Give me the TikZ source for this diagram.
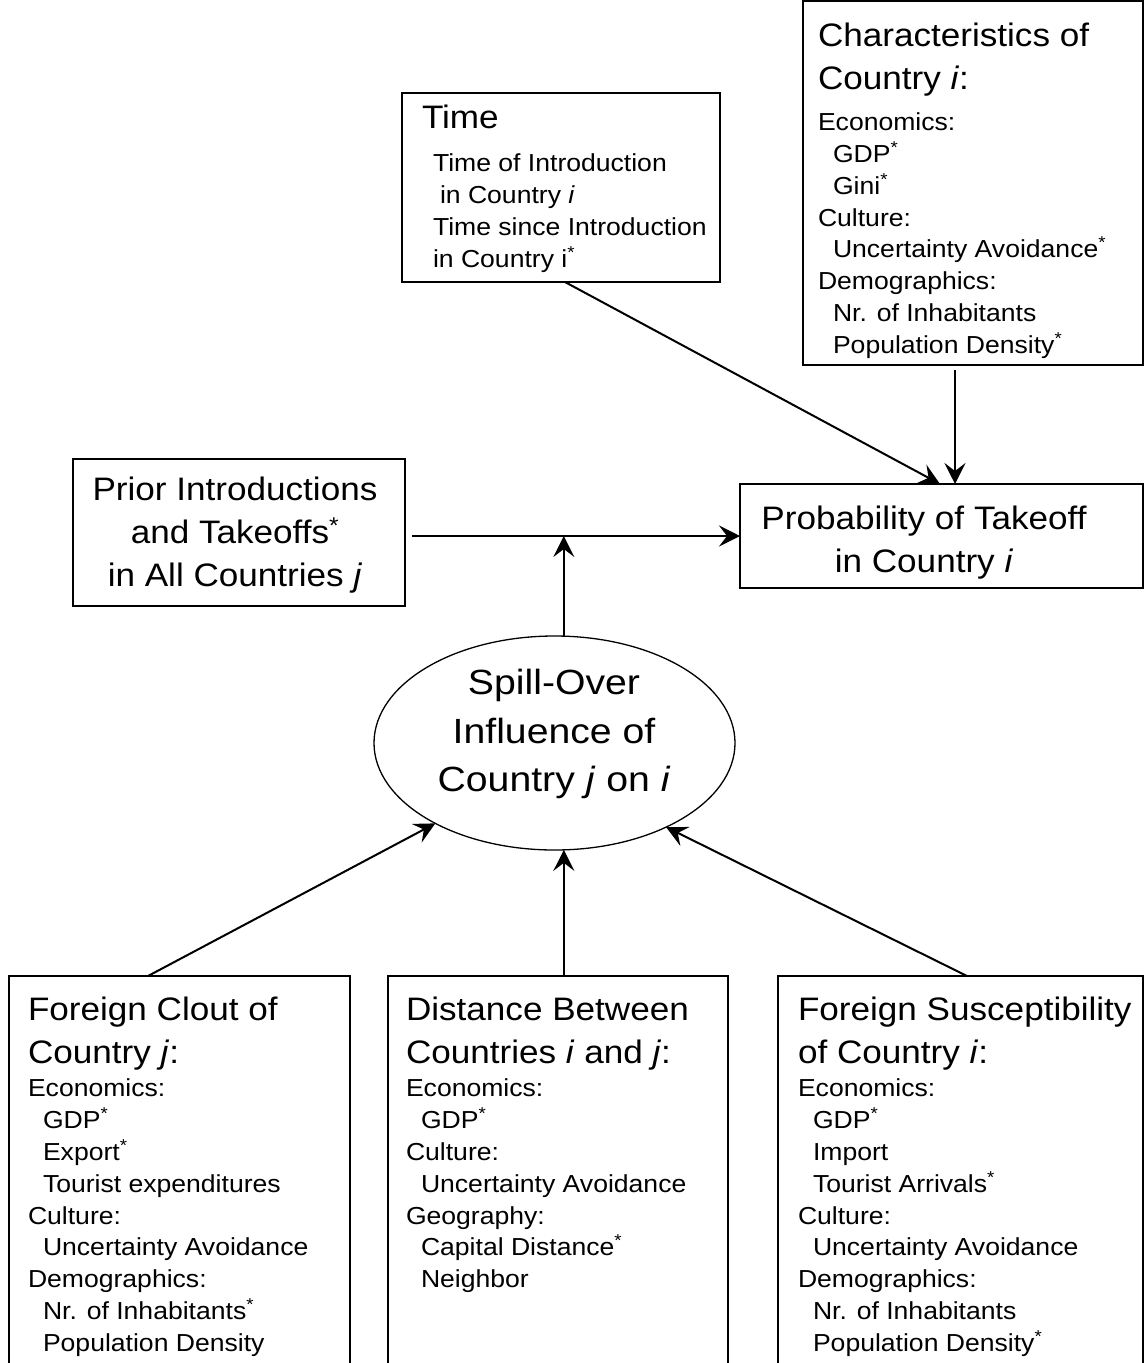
\documentclass[tikz,border=0pt]{standalone}
\usepackage{fontspec}
\setmainfont{Liberation Sans}[FakeStretch=1.08]
\newfontfamily\ellfont{Liberation Sans}[FakeStretch=1.12]
\usetikzlibrary{arrows.meta,calc,shapes.geometric}
\newcommand\bigf{\fontsize{32.5}{43}\selectfont}
\newcommand\smf{\fontsize{24.6}{31.8}\selectfont}
\newcommand\ellf{\ellfont\fontsize{35}{48.5}\selectfont}
\newcommand\st{\textsuperscript{*}}
\newcommand\ind{\hspace*{15pt}}
\begin{document}
\begin{tikzpicture}[x=1pt,y=-1pt,
  box/.style={draw, line width=1.5pt, inner sep=0, outer sep=0, anchor=north west},
  txt/.style={inner sep=0, outer sep=0, align=left, anchor=north west},
  ctxt/.style={inner sep=0, outer sep=0, align=center, anchor=north},
  arr/.style={-{Stealth[length=21pt,width=21pt,inset=8pt]}, line width=2pt}]
\useasboundingbox (0,0) rectangle (1144,1363);
\clip (0,0) rectangle (1144,1363);
\fill[white] (0,0) rectangle (1144,1363);

% boxes
\node[box, minimum width=340, minimum height=364] (char) at (803,1) {};
\node[box, minimum width=318, minimum height=189] (time) at (402,93) {};
\node[box, minimum width=332, minimum height=147] (prior) at (73,459) {};
\node[box, minimum width=403, minimum height=104] (prob) at (740,484) {};
\node[box, minimum width=341, minimum height=420] (fc) at (9,976) {};
\node[box, minimum width=340, minimum height=420] (dist) at (388,976) {};
\node[box, minimum width=365, minimum height=420] (fs) at (778,976) {};
\node[ellipse, draw, line width=1.3pt, minimum width=361, minimum height=214, inner sep=0, outer sep=0] (sp) at (554.5,743) {};

% texts
\node[txt, font=\bigf] (charH) at (818,16.6) {\strut Characteristics of\\Country \textit{i}:};
\node[txt, font=\smf] (charB) at (818,108.4) {\strut Economics:\\\ind GDP\st\\\ind Gini\st\\Culture:\\\ind Uncertainty Avoidance\st\\Demographics:\\\ind Nr. of Inhabitants\\\ind Population Density\st};

\node[txt, font=\bigf] (timeH) at (422,97.9) {\strut Time};
\node[txt, font=\smf] (timeB) at (433,149.7) {\strut Time of Introduction\\\hspace*{7pt}in Country \textit{i}\\Time since Introduction\\in Country i\st};

\node[ctxt, font=\bigf] (priorT) at (235,469.9) {\strut Prior Introductions\\and Takeoffs\st\\in All Countries \textit{j}};
\node[ctxt, font=\bigf] (probT) at (924,498.9) {\strut Probability of Takeoff\\in Country \textit{i}};
\node[ctxt, font=\ellf] (spT) at (554,661) {\strut Spill-Over\\Influence of\\Country \textit{j} on \textit{i}};

\node[txt, font=\bigf] (fcH) at (28,989.9) {\strut Foreign Clout of\\Country \textit{j}:};
\node[txt, font=\smf] (fcB) at (28,1074.7) {\strut Economics:\\\ind GDP\st\\\ind Export\st\\\ind Tourist expenditures\\Culture:\\\ind Uncertainty Avoidance\\Demographics:\\\ind Nr. of Inhabitants\st\\\ind Population Density};

\node[txt, font=\bigf] (distH) at (406,989.9) {\strut Distance Between\\Countries \textit{i} and \textit{j}:};
\node[txt, font=\smf] (distB) at (406,1074.7) {\strut Economics:\\\ind GDP\st\\Culture:\\\ind Uncertainty Avoidance\\Geography:\\\ind Capital Distance\st\\\ind Neighbor};

\node[txt, font=\bigf] (fsH) at (798,989.9) {\strut Foreign Susceptibility\\of Country \textit{i}:};
\node[txt, font=\smf] (fsB) at (798,1074.7) {\strut Economics:\\\ind GDP\st\\\ind Import\\\ind Tourist Arrivals\st\\Culture:\\\ind Uncertainty Avoidance\\Demographics:\\\ind Nr. of Inhabitants\\\ind Population Density\st};

% connectors
\draw[arr] ($(time.south west)+(163,0)$) -- ($(prob.north west)+(200,0)$);
\draw[arr] ($(char.south west)+(152,5)$) -- ($(prob.north west)+(215,0)$);
\draw[arr] ($(prior.east |- prob.west)+(7,0)$) -- (prob.west);
\draw[arr] (sp.85) -- (sp.85 |- prob.west);
\draw[arr] ($(fc.north west)+(139,0)$) -- (sp.214.9);
\draw[arr] (sp.275 |- dist.north) -- (sp.275);
\draw[arr] ($(fs.north west)+(189,0)$) -- (sp.323.9);
\end{tikzpicture}
\end{document}
